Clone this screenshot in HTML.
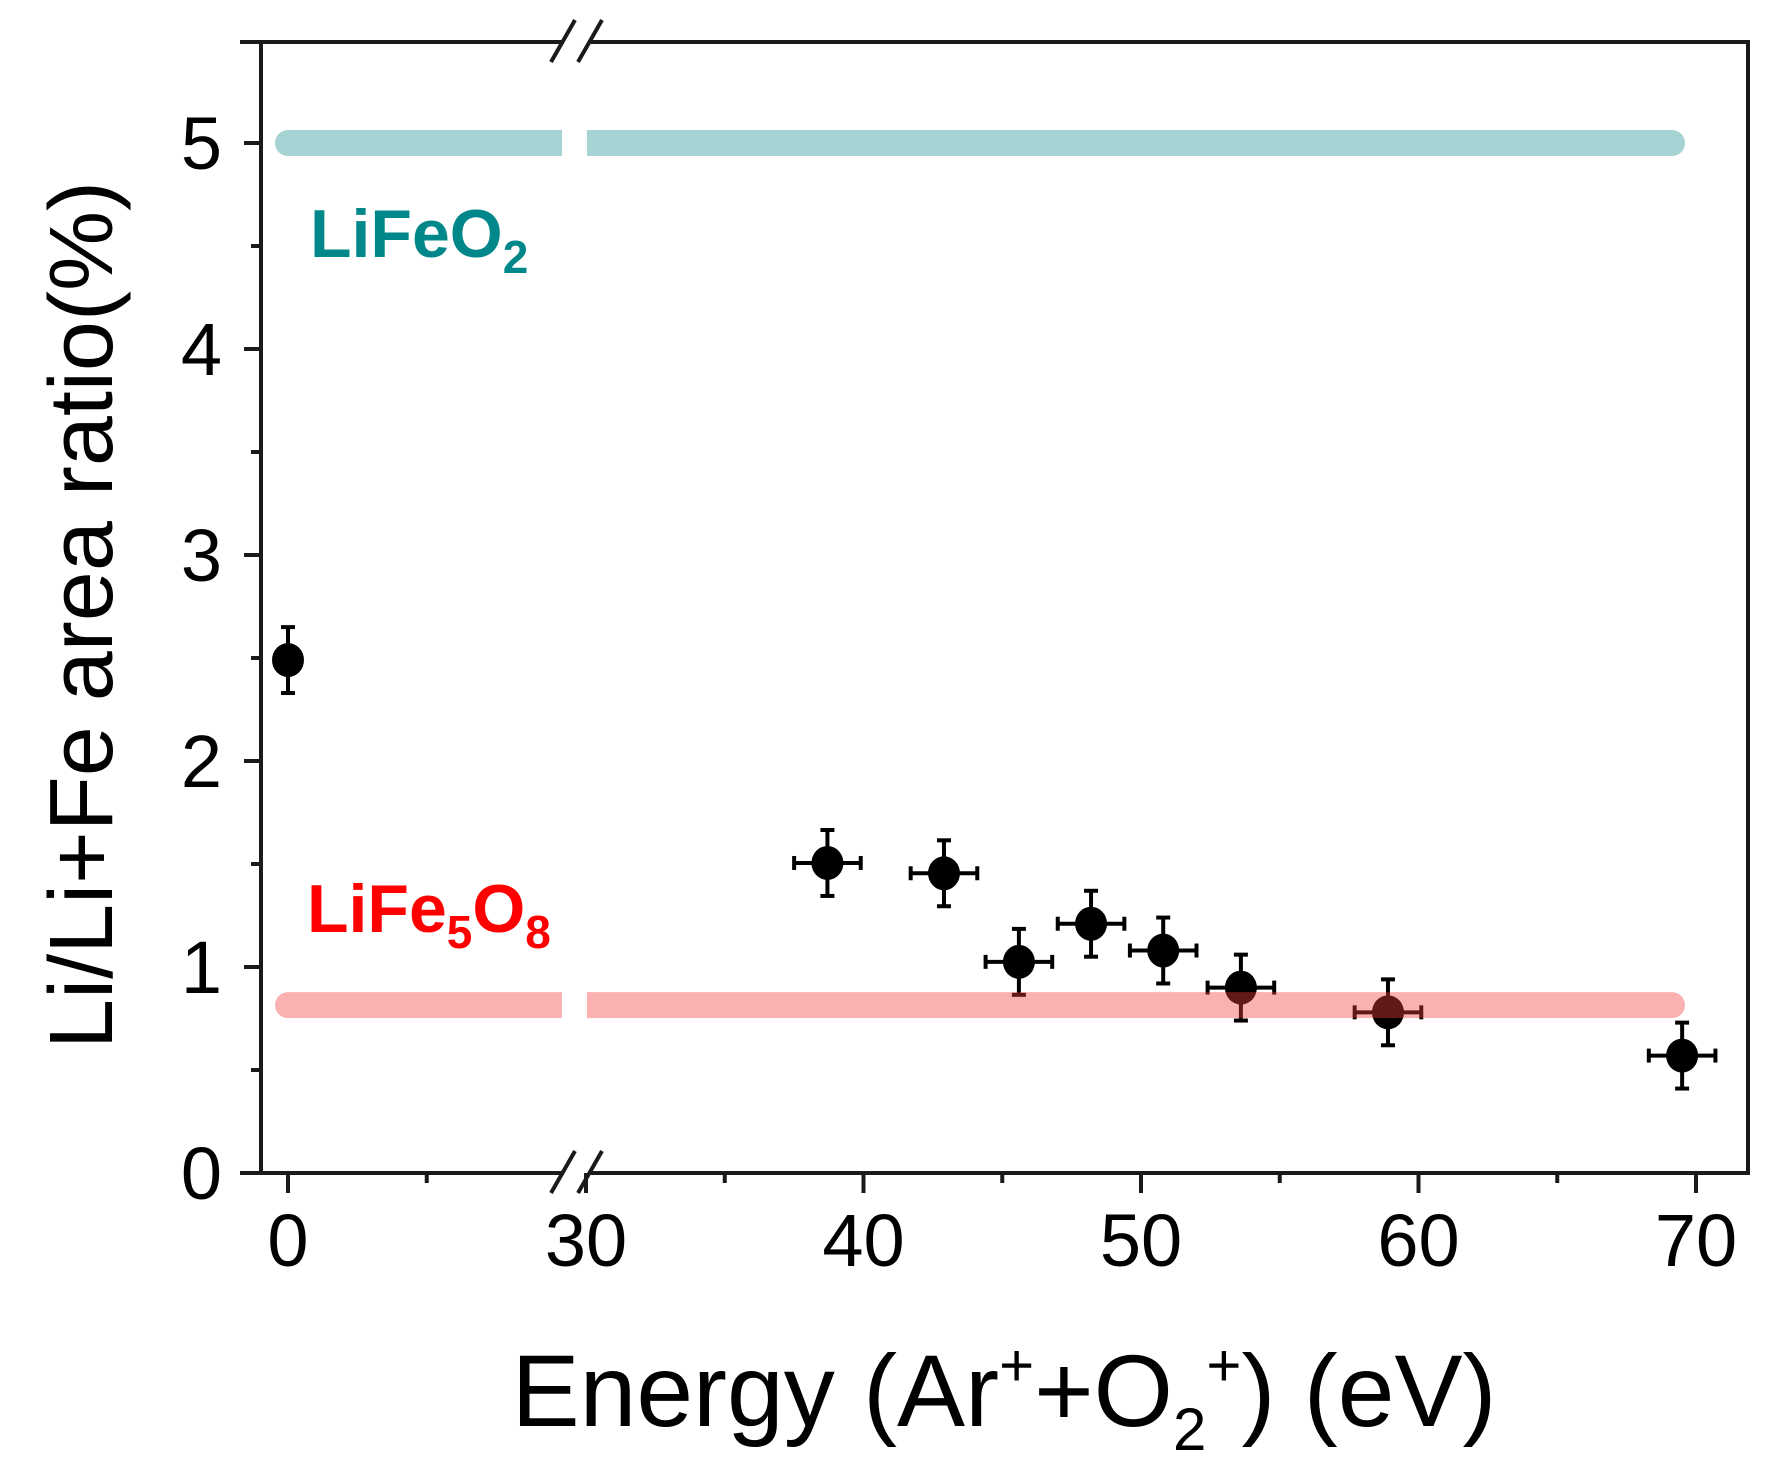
<!DOCTYPE html>
<html><head><meta charset="utf-8"><style>
html,body{margin:0;padding:0;background:#fff;}
svg{display:block;font-family:"Liberation Sans",Arial,sans-serif;}
</style></head><body>
<svg id="chart" width="1773" height="1473" viewBox="0 0 1773 1473">
<g id="marks"></g>
<g id="refs"></g>
<g id="axes"></g>
<text x="310" y="257" font-size="68" font-weight="bold" fill="#00878a">LiFeO<tspan font-size="46" dy="16">2</tspan></text>
<text x="307" y="932" font-size="68" font-weight="bold" fill="#ff0000">LiFe<tspan font-size="46" dy="16">5</tspan><tspan dy="-16">O</tspan><tspan font-size="46" dy="16">8</tspan></text>
<text transform="translate(112,615) rotate(-90)" text-anchor="middle" font-size="90" fill="#000">Li/Li+Fe area ratio(%)</text>
<text x="1004" y="1426" text-anchor="middle" font-size="102" fill="#000">Energy (Ar<tspan font-size="60" dy="-40">+</tspan><tspan dy="40">+O</tspan><tspan font-size="60" dy="24">2</tspan><tspan font-size="60" dy="-64">+</tspan><tspan dy="40">) (eV)</tspan></text>
</svg>
<script>
const energies = [0, 38.7, 42.9, 45.6, 48.2, 50.8, 53.6, 58.9, 69.5];
const ratios = [2.49, 1.505, 1.455, 1.025, 1.21, 1.08, 0.90, 0.78, 0.57];
const yErr = [0.16, 0.16, 0.16, 0.16, 0.16, 0.16, 0.16, 0.16, 0.16];
const xErr = [0, 1.2, 1.2, 1.2, 1.2, 1.2, 1.2, 1.2, 1.2];
const refValues = [5.0, 0.815];
const refNames = ['lifeo2-line', 'life5o8-line'];
const xTicks = [0, 30, 40, 50, 60, 70];
const xMinorTicks = [5, 35, 45, 55, 65];
const yTicks = [0, 1, 2, 3, 4, 5];

const NS = 'http://www.w3.org/2000/svg';
const PX = 27.75;
function xs(e){ return e < 20 ? 288 + e*PX : 586 + (e-30)*PX; }
function ys(v){ return 1173 - v*206; }
function mk(tag, attrs, parent){
  const el = document.createElementNS(NS, tag);
  for (const k in attrs) el.setAttribute(k, attrs[k]);
  parent.appendChild(el); return el;
}
const marks = document.getElementById('marks');
const refs = document.getElementById('refs');
const axes = document.getElementById('axes');

energies.forEach((e,i)=>{
  const g = mk('g', {}, marks);
  
  
  const cx = xs(e), cy = ys(ratios[i]);
  const y1 = ys(ratios[i]+yErr[i]), y2 = ys(ratios[i]-yErr[i]);
  mk('line', {x1:cx,y1:y1,x2:cx,y2:y2,stroke:'#000','stroke-width':4}, g);
  mk('line', {x1:cx-7,y1:y1,x2:cx+7,y2:y1,stroke:'#000','stroke-width':4}, g);
  mk('line', {x1:cx-7,y1:y2,x2:cx+7,y2:y2,stroke:'#000','stroke-width':4}, g);
  if (xErr[i] > 0){
    const x1 = xs(e-xErr[i]), x2 = xs(e+xErr[i]);
    mk('line', {x1:x1,y1:cy,x2:x2,y2:cy,stroke:'#000','stroke-width':4}, g);
    mk('line', {x1:x1,y1:cy-7,x2:x1,y2:cy+7,stroke:'#000','stroke-width':4}, g);
    mk('line', {x1:x2,y1:cy-7,x2:x2,y2:cy+7,stroke:'#000','stroke-width':4}, g);
  }
  mk('ellipse', {cx:cx,cy:cy,rx:16,ry:17,fill:'#000'}, g);
});

const refColors = ['rgba(0,128,128,0.35)', 'rgba(245,60,60,0.4)'];
refValues.forEach((v,i)=>{
  const y = ys(v);
  const q = mk('path', {d:`M288 ${y} H1672`, stroke:refColors[i], 'stroke-width':26, 'stroke-linecap':'round', fill:'none'}, refs);
  
  
  mk('rect', {x:562, y:y-15, width:25, height:30, fill:'#fff'}, refs);
});

const ax = '#1a1a1a';
mk('line', {x1:261,y1:42,x2:261,y2:1173,stroke:ax,'stroke-width':4}, axes);
mk('line', {x1:1748,y1:42,x2:1748,y2:1173,stroke:ax,'stroke-width':4}, axes);
[42,1173].forEach(y=>{
  mk('line', {x1:240,y1:y,x2:564,y2:y,stroke:ax,'stroke-width':4}, axes);
  mk('line', {x1:591,y1:y,x2:1750,y2:y,stroke:ax,'stroke-width':4}, axes);
  mk('line', {x1:551,y1:y+20,x2:575,y2:y-22,stroke:ax,'stroke-width':4}, axes);
  mk('line', {x1:578,y1:y+20,x2:602,y2:y-22,stroke:ax,'stroke-width':4}, axes);
});
yTicks.forEach(v=>{
  const y = ys(v);
  mk('line', {x1:244,y1:y,x2:261,y2:y,stroke:ax,'stroke-width':4}, axes);
  const t = mk('text', {x:222,y:y+26,'text-anchor':'end','font-size':74,fill:'#000'}, axes);
  t.textContent = String(v);
  
  
  if (v < 5) mk('line', {x1:251,y1:ys(v+0.5),x2:261,y2:ys(v+0.5),stroke:ax,'stroke-width':4}, axes);
});
xTicks.forEach(e=>{
  const x = xs(e);
  mk('line', {x1:x,y1:1173,x2:x,y2:1193,stroke:ax,'stroke-width':4}, axes);
  const t = mk('text', {x:x,y:1266,'text-anchor':'middle','font-size':74,fill:'#000'}, axes);
  t.textContent = String(e);
  
  
});
xMinorTicks.forEach(e=>{
  const x = xs(e);
  mk('line', {x1:x,y1:1173,x2:x,y2:1183,stroke:ax,'stroke-width':4}, axes);
});
</script>
</body></html>
